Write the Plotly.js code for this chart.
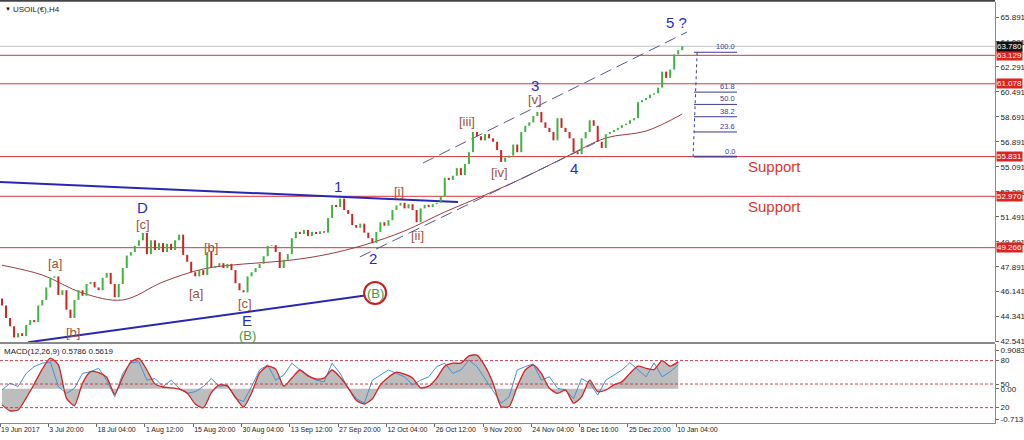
<!DOCTYPE html>
<html><head><meta charset="utf-8">
<script src="https://cdn.plot.ly/plotly-3.0.1.min.js"></script>
<style>html,body{margin:0;padding:0;background:#fff}#chart{width:1024px;height:440px}</style>
</head><body><div id="chart"></div>
<script>
// ---- DATA ----
const closes = [45.1, 44.2, 43.6, 42.8, 43.1, 42.9, 43.7, 44.05, 43.9, 45.1,
 45.5, 46.4, 47.1, 47.2, 45.85, 46.2, 44.8, 44.2, 45.5, 46.2,
 45.8, 46.65, 46.8, 46.4, 46.2, 47.1, 47.45, 46.65, 45.7, 46.65,
 47.8, 48.7, 48.95, 49.4, 49.8, 50.33, 48.8, 49.8, 49.1, 49.6,
 48.95, 49.55, 49.1, 49.8, 50.2, 48.75, 48.25, 47.5, 47.2, 47.65,
 47.3, 48.95, 47.8, 47.95, 48.15, 47.8, 48.1, 47.65, 46.7, 46.2,
 46.05, 47.2, 47.5, 47.8, 48.1, 48.65, 49.4, 49.45, 48.95, 47.8,
 48.4, 48.8, 49.95, 50.4, 50.25, 50.55, 50.1, 50.4, 50.25, 50.45,
 50.35, 51.4, 52.35, 52.2, 52.8, 51.98, 51.7, 50.9, 50.7, 51.0,
 50.35, 49.95, 49.6, 50.4, 51.1, 50.85, 51.25, 51.98, 52.3, 52.5,
 52.1, 52.4, 51.98, 51.1, 52.1, 52.35, 52.2, 52.4, 52.5, 52.95,
 54.3, 54.15, 54.45, 55.0, 54.5, 55.3, 56.15, 57.6, 57.3, 57.0,
 57.45, 57.15, 56.9, 56.3, 55.45, 55.75, 55.9, 56.7, 56.15, 57.6,
 58.05, 58.3, 58.75, 59.05, 58.3, 57.9, 57.6, 57.0, 58.6, 57.9,
 57.6, 57.15, 56.15, 56.0, 57.15, 57.6, 58.45, 58.05, 56.9, 56.45,
 57.45, 57.6, 57.75, 57.9, 58.1, 58.2, 58.45, 58.6, 59.75, 59.9,
 60.05, 60.3, 60.4, 60.8, 61.95, 61.5, 62.1, 63.2, 63.5, 63.78];
const firstOpen = 45.6;

const maBars   = [0, 10, 20, 30, 40, 50, 60, 70, 80, 90, 100, 110, 120, 130, 140, 150, 160, 169];
const maValues = [48.0, 47.3, 46.0, 45.5, 46.8, 47.73, 48.09, 48.31, 48.74, 49.46, 50.47, 51.84, 53.06, 54.36, 55.8, 57.17, 57.67, 58.9];

const levelLines = [63.129, 61.078, 55.831, 52.970, 49.266];
const lastPrice = 63.780;

const priceTicks = [65.891, 64.091, 62.291, 60.491, 58.691, 56.891, 55.091, 53.291, 51.491, 49.691, 47.891, 46.141, 44.341, 42.541];

const timeTickBars = [0, 12, 24, 36, 48, 60, 72, 84, 96, 108, 120, 132, 144, 156, 168];
const timeLabels = ["19 Jun 2017", "3 Jul 20:00", "18 Jul 04:00", "1 Aug 12:00", "15 Aug 20:00", "30 Aug 04:00", "13 Sep 12:00", "27 Sep 20:00", "12 Oct 04:00", "26 Oct 12:00", "9 Nov 20:00", "24 Nov 04:00", "8 Dec 16:00", "25 Dec 20:00", "10 Jan 04:00"];

// trendlines (bar index, price)
const triUpperBars = [-0.5, 113.3], triUpperPrices = [54.0, 52.56];
const triLowerBars = [6.5, 90.2],   triLowerPrices = [42.45, 45.82];
const chanUpperBars = [104.6, 170.2], chanUpperPrices = [55.37, 64.81];
const chanLowerBars = [88.9, 147.3],  chanLowerPrices = [48.6, 56.81];

// fibonacci
const fibLow = 55.831, fibHigh = 63.35;
const fibLevels = [0, 23.6, 38.2, 50, 61.8, 100];
const fibLabels = ["0.0", "23.6", "38.2", "50.0", "61.8", "100.0"];
const fibBars = [171.9, 182.6];
const fibDiagBars = [172.7, 171.7];

// MACD panel (every 2 bars)
const macdRed = [-0.38,-0.52,-0.50,-0.22,0.11,0.46,0.72,0.56,-0.22,-0.40,
 0.13,0.40,0.38,0.27,-0.13,0.27,0.63,0.71,0.44,0.11,
 0.04,0.02,-0.01,-0.10,-0.36,-0.45,-0.10,0.09,0.06,-0.20,
 -0.43,-0.10,0.37,0.53,0.46,0.06,0.25,0.44,0.30,0.23,
 0.25,0.44,0.27,0.02,-0.27,-0.36,-0.24,0.09,0.27,0.39,
 0.34,0.25,0.02,0.06,0.25,0.53,0.60,0.60,0.77,0.79,
 0.53,0.13,-0.42,-0.42,0.05,0.44,0.56,0.36,0.01,-0.11,
 -0.03,-0.34,-0.19,0.20,-0.07,-0.03,0.09,0.16,0.36,0.53,
 0.48,0.45,0.66,0.53,0.63];
const macdBlue = [-0.03,0.13,0.05,0.36,0.52,0.60,0.63,0.05,-0.11,0.01,
 0.36,0.40,0.48,0.20,-0.19,0.36,0.61,0.63,0.20,0.24,
 0.05,0.20,0.01,-0.11,-0.07,0.05,0.24,0.05,0.09,-0.23,
 -0.30,0.05,0.44,0.56,0.20,0.32,0.60,0.44,0.32,0.20,
 0.16,0.60,0.36,0.01,-0.23,-0.34,0.20,0.32,0.44,0.36,
 0.28,0.09,0.20,0.28,0.52,0.60,0.36,0.44,0.67,0.52,
 0.24,-0.03,-0.34,-0.19,0.44,0.52,0.58,0.20,0.28,0.01,
 -0.03,-0.23,0.24,0.13,-0.15,0.20,0.32,0.44,0.61,0.44,
 0.28,0.61,0.28,0.40,0.56];
const macdLevels = [0.66, 0.11, -0.445];
const macdTickVals = [0.9083, 0.66, 0.11, 0.0, -0.445, -0.713];
const macdTickText = ["0.9083", "80", "50", "0.00", "20", "-0.713"];

// ---- BUILD ----
const opens = closes.map((c, i) => i ? closes[i - 1] : firstOpen);
const macdBars = macdRed.map((_, i) => i * 2);

const BLUE = '#2b2bc4', BROWN = '#a3503c', GREEN = '#3c9a3c', RED = '#d8343c', NAVY = '#3a3a92';
const FONT = 'Liberation Sans, Arial, sans-serif';

// candle bodies as vertical segments
const upX = [], upY = [], dnX = [], dnY = [];
closes.forEach((c, i) => {
  const o = opens[i];
  if (c >= o) { upX.push(i, i, null); upY.push(o, c, null); }
  else { dnX.push(i, i, null); dnY.push(o, c, null); }
});

const traces = [];
traces.push({x: maBars, y: maValues, type: 'scatter', mode: 'lines', line: {color: '#9c3c44', width: 1, shape: 'spline', smoothing: 1}, xaxis: 'x', yaxis: 'y'});
traces.push({x: chanUpperBars, y: chanUpperPrices, type: 'scatter', mode: 'lines', line: {color: '#565a82', width: 1, dash: '12px,6px'}, xaxis: 'x', yaxis: 'y'});
traces.push({x: chanLowerBars, y: chanLowerPrices, type: 'scatter', mode: 'lines', line: {color: '#565a82', width: 1, dash: '12px,6px'}, xaxis: 'x', yaxis: 'y'});
traces.push({x: triUpperBars, y: triUpperPrices, type: 'scatter', mode: 'lines', line: {color: '#2828b4', width: 2}, xaxis: 'x', yaxis: 'y'});
traces.push({x: triLowerBars, y: triLowerPrices, type: 'scatter', mode: 'lines', line: {color: '#2828b4', width: 2}, xaxis: 'x', yaxis: 'y'});
traces.push({x: upX, y: upY, type: 'scatter', mode: 'lines', line: {color: '#3db53d', width: 2}, connectgaps: false, xaxis: 'x', yaxis: 'y'});
traces.push({x: dnX, y: dnY, type: 'scatter', mode: 'lines', line: {color: '#d42222', width: 2}, connectgaps: false, xaxis: 'x', yaxis: 'y'});
traces.push({x: fibDiagBars, y: [fibHigh, fibLow], type: 'scatter', mode: 'lines', line: {color: NAVY, width: 1, dash: 'dot'}, xaxis: 'x', yaxis: 'y'});
fibLevels.forEach((lv) => {
  const p = fibLow + lv / 100 * (fibHigh - fibLow);
  traces.push({x: fibBars, y: [p, p], type: 'scatter', mode: 'lines', line: {color: lv === 0 ? '#5a3a8a' : NAVY, width: lv === 0 ? 1.6 : 1}, xaxis: 'x', yaxis: 'y'});
});
traces.push({x: macdBars, y: macdRed, type: 'scatter', mode: 'lines', fill: 'tozeroy', fillcolor: '#bdbdbd', line: {width: 0, shape: 'spline', smoothing: 0.6}, xaxis: 'x', yaxis: 'y2'});
traces.push({x: macdBars, y: macdBlue, type: 'scatter', mode: 'lines', line: {color: '#3f92d8', width: 1}, xaxis: 'x', yaxis: 'y2'});
traces.push({x: macdBars, y: macdRed, type: 'scatter', mode: 'lines', line: {color: '#d42222', width: 1.3, shape: 'spline', smoothing: 0.6}, xaxis: 'x', yaxis: 'y2'});

const shapes = [];
levelLines.forEach(v => shapes.push({type: 'line', xref: 'paper', x0: 0, x1: 1, yref: 'y', y0: v, y1: v, line: {color: RED, width: 1}, layer: 'below'}));
shapes.push({type: 'line', xref: 'paper', x0: 0, x1: 1, yref: 'y', y0: lastPrice, y1: lastPrice, line: {color: '#c4c4c4', width: 1}, layer: 'below'});
macdLevels.forEach(v => shapes.push({type: 'line', xref: 'paper', x0: 0, x1: 1, yref: 'y2', y0: v, y1: v, line: {color: '#c8404c', width: 1, dash: '3px,2px'}}));
shapes.push({type: 'circle', xref: 'x', yref: 'y', xsizemode: 'pixel', ysizemode: 'pixel', xanchor: 92.7, yanchor: 46.0, x0: -11, x1: 11, y0: -11, y1: 11, line: {color: '#c42020', width: 2}});
shapes.push({type: 'line', xref: 'paper', x0: 0, x1: 1, yref: 'paper', y0: 0.1900, y1: 0.1900, line: {color: '#8a8a8a', width: 2}});
shapes.push({type: 'line', xref: 'paper', x0: 0, x1: 1, yref: 'paper', y0: 1.003, y1: 1.003, line: {color: '#444', width: 2}});

const ann = [];
const waveLabels = [
 ['5 ?', 167.5, 65.5, BLUE, 15], ['3', 132.4, 60.92, BLUE, 15], ['[v]', 132.4, 59.95, BROWN, 13],
 ['[iii]', 115.6, 58.33, BROWN, 13], ['[iv]', 123.7, 54.65, BROWN, 13], ['4', 142.1, 55.0, BLUE, 15],
 ['1', 83.5, 53.7, BLUE, 15], ['[i]', 98.6, 53.35, BROWN, 13], ['[ii]', 103.1, 50.11, BROWN, 13],
 ['2', 92.2, 48.52, BLUE, 15], ['D', 35.0, 52.13, BLUE, 15], ['[c]', 35.0, 50.97, BROWN, 13],
 ['[a]', 13.2, 48.1, BROWN, 13], ['[b]', 51.9, 49.25, BROWN, 13], ['[a]', 48.2, 45.93, BROWN, 13],
 ['[b]', 17.6, 43.19, BROWN, 13], ['[c]', 60.4, 45.21, BROWN, 13], ['E', 60.9, 44.0, BLUE, 15],
 ['(B)', 60.9, 42.97, GREEN, 13], ['(B)', 92.7, 46.0, GREEN, 13],
 ['Support', 192.0, 55.15, '#e0342c', 15], ['Support', 191.8, 52.27, '#e0342c', 15]
];
waveLabels.forEach(w => ann.push({text: w[0], x: w[1], y: w[2], xref: 'x', yref: 'y', showarrow: false, xanchor: 'center', yanchor: 'middle', font: {family: FONT, size: w[4], color: w[3]}}));
fibLevels.forEach((lv, i) => {
  const p = fibLow + lv / 100 * (fibHigh - fibLow);
  ann.push({text: fibLabels[i], x: fibBars[1], y: p, xref: 'x', yref: 'y', showarrow: false, xanchor: 'right', yanchor: 'bottom', yshift: -1, font: {family: FONT, size: 7.5, color: NAVY}});
});
levelLines.forEach(v => ann.push({text: v.toFixed(3), x: 1, y: v, xref: 'paper', yref: 'y', xanchor: 'left', yanchor: 'middle', xshift: 1, showarrow: false, bgcolor: '#e0221e', borderpad: 0, font: {family: FONT, size: 8, color: '#fff'}}));
ann.push({text: lastPrice.toFixed(3), x: 1, y: lastPrice, xref: 'paper', yref: 'y', xanchor: 'left', yanchor: 'middle', xshift: 1, showarrow: false, bgcolor: '#111', borderpad: 0, font: {family: FONT, size: 8, color: '#fff'}});
ann.push({text: '▼', x: 0.003, y: 0.995, xref: 'paper', yref: 'paper', xanchor: 'left', yanchor: 'top', showarrow: false, font: {family: FONT, size: 6, color: '#111'}});
ann.push({text: 'USOIL(€),H4', x: 0.011, y: 0.997, xref: 'paper', yref: 'paper', xanchor: 'left', yanchor: 'top', showarrow: false, font: {family: FONT, size: 8, color: '#222'}});
ann.push({text: 'MACD(12,26,9) 0.5786 0.5619', x: 0.002, y: 0.185, xref: 'paper', yref: 'paper', xanchor: 'left', yanchor: 'top', showarrow: false, font: {family: FONT, size: 8, color: '#222'}});

const layout = {
  width: 1024, height: 440,
  margin: {l: 0, r: 29, t: 2, b: 17},
  paper_bgcolor: '#fff', plot_bgcolor: '#fff',
  showlegend: false, hovermode: false,
  xaxis: {range: [-0.5, 246.7], anchor: 'y2', tickvals: timeTickBars.map(b => b - 0.5), ticktext: timeLabels,
    tickangle: 0, ticks: 'outside', ticklen: 3, tickcolor: '#666', ticklabelposition: 'outside right',
    tickfont: {family: FONT, size: 7, color: '#222'}, showgrid: false, zeroline: false,
    showline: true, linecolor: '#8a8a8a', linewidth: 1},
  yaxis: {domain: [0.1924, 1], range: [42.469, 66.972], side: 'right', tickvals: priceTicks, ticktext: priceTicks.map(v => v.toFixed(3)),
    ticks: 'outside', ticklen: 3, tickcolor: '#666', tickfont: {family: FONT, size: 8, color: '#222'},
    showgrid: false, zeroline: false, showline: true, linecolor: '#8a8a8a', linewidth: 1},
  yaxis2: {domain: [0, 0.1876], range: [-0.806, 1.05], side: 'right', tickvals: macdTickVals, ticktext: macdTickText,
    ticks: 'outside', ticklen: 3, tickcolor: '#666', tickfont: {family: FONT, size: 8, color: '#222'},
    showgrid: false, zeroline: false, showline: true, linecolor: '#8a8a8a', linewidth: 1},
  shapes: shapes, annotations: ann
};
Plotly.newPlot('chart', traces, layout, {staticPlot: true, displayModeBar: false});
</script></body></html>
